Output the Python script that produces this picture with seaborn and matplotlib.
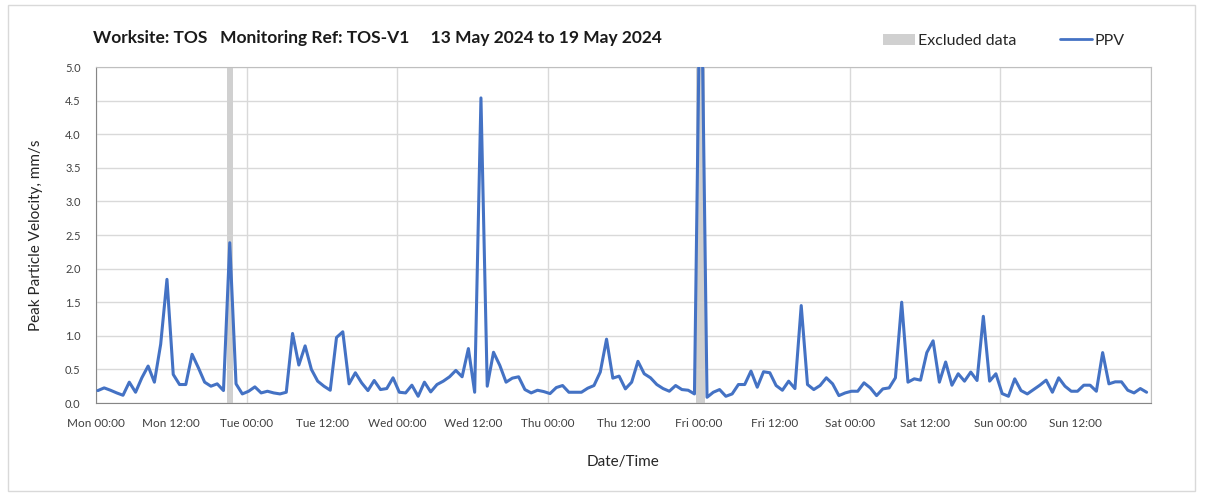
import numpy as np
import seaborn as sns
import matplotlib.pyplot as plt
from matplotlib.ticker import MultipleLocator
from matplotlib.patches import Patch, Rectangle
from matplotlib.lines import Line2D

# hourly readings, hours since Mon 13 May 2024 00:00 (first reading ~00:20)
hours = np.arange(168) + 0.3
ppv = [
    0.185, 0.225, 0.19, 0.15, 0.115, 0.31, 0.16, 0.375, 0.55, 0.31, 0.875, 1.84,
    0.425, 0.275, 0.275, 0.725, 0.525, 0.31, 0.25, 0.285, 0.185, 2.385, 0.285, 0.135,
    0.175, 0.24, 0.15, 0.175, 0.15, 0.135, 0.16, 1.035, 0.565, 0.85, 0.5, 0.325,
    0.25, 0.19, 0.975, 1.06, 0.285, 0.45, 0.3, 0.185, 0.335, 0.2, 0.215, 0.375,
    0.16, 0.15, 0.265, 0.1, 0.31, 0.165, 0.275, 0.325, 0.39, 0.485, 0.39, 0.81,
    0.16, 4.54, 0.25, 0.755, 0.56, 0.31, 0.37, 0.39, 0.2, 0.15, 0.19, 0.17,
    0.14, 0.23, 0.26, 0.16, 0.16, 0.16, 0.22, 0.26, 0.46, 0.95, 0.37, 0.40,
    0.21, 0.31, 0.62, 0.435, 0.375, 0.275, 0.215, 0.175, 0.26, 0.2, 0.19, 0.135,
    7.2, 0.085, 0.16, 0.2, 0.1, 0.135, 0.275, 0.275, 0.475, 0.235, 0.465, 0.45,
    0.26, 0.19, 0.325, 0.215, 1.45, 0.275, 0.2, 0.26, 0.375, 0.285, 0.11, 0.15,
    0.175, 0.175, 0.3, 0.225, 0.11, 0.21, 0.225, 0.375, 1.5, 0.31, 0.36, 0.34,
    0.75, 0.925, 0.31, 0.61, 0.265, 0.435, 0.325, 0.46, 0.335, 1.29, 0.325, 0.435,
    0.14, 0.1, 0.36, 0.185, 0.135, 0.2, 0.265, 0.34, 0.16, 0.375, 0.25, 0.175,
    0.175, 0.265, 0.265, 0.175, 0.75, 0.285, 0.315, 0.315, 0.19, 0.15, 0.215, 0.16,
]

tick_labels = ["Mon 00:00", "Mon 12:00", "Tue 00:00", "Tue 12:00", "Wed 00:00",
               "Wed 12:00", "Thu 00:00", "Thu 12:00", "Fri 00:00", "Fri 12:00",
               "Sat 00:00", "Sat 12:00", "Sun 00:00", "Sun 12:00"]

# excluded periods (hours since start)
excluded_from = [20.9, 95.6]
excluded_to = [21.8, 96.9]

title = "Worksite: TOS   Monitoring Ref: TOS-V1     13 May 2024 to 19 May 2024"

sns.set_style("white")
plt.rcParams['font.family'] = ['Lato', 'DejaVu Sans']

blue = '#4472c4'
grey = '#d0d0d0'

fig = plt.figure(figsize=(12.08, 4.97), dpi=100)
ax = fig.add_axes([96 / 1208, 1 - 403 / 497, 1055 / 1208, 336 / 497])

for a, b in zip(excluded_from, excluded_to):
    ax.axvspan(a, b, color=grey, lw=0, zorder=1)

sns.lineplot(x=hours, y=ppv, ax=ax, color=blue, lw=2.2, zorder=3)

ax.set_xlim(0, 168)
ax.set_ylim(0, 5)
ax.set_xticks(np.arange(0, 168, 12))
ax.set_xticklabels(tick_labels)
ax.xaxis.set_minor_locator(MultipleLocator(24))
ax.xaxis.remove_overlapping_locs = False
ax.yaxis.set_major_locator(MultipleLocator(0.5))
ax.yaxis.set_major_formatter('{x:.1f}')

ax.grid(which='minor', axis='x', color='#d9d9d9', lw=1, zorder=0)
ax.grid(which='major', axis='y', color='#d9d9d9', lw=1, zorder=0)
ax.set_axisbelow(True)
ax.tick_params(which='minor', length=0)
ax.tick_params(which='major', direction='out', length=5, width=1, color='#868686',
               labelcolor='#404040', pad=6)
ax.tick_params(axis='x', labelsize=8.5)
ax.tick_params(axis='y', labelsize=8)

for side in ['left', 'bottom']:
    ax.spines[side].set_color('#868686')
for side in ['top', 'right']:
    ax.spines[side].set_color('#bfbfbf')

ax.set_ylabel('Peak Particle Velocity, mm/s', fontsize=11, color='#262626')
ax.yaxis.set_label_coords(-53 / 1055, 0.5)
ax.set_xlabel('Date/Time', fontsize=11, color='#262626')
ax.xaxis.set_label_coords(0.5, -52 / 336)

fig.text(93 / 1208, 1 - 38 / 497, title, fontsize=12.5, fontweight='bold',
         ha='left', va='center', color='#1a1a1a')

handles = [Patch(facecolor=grey, edgecolor='none'), Line2D([], [], color=blue, lw=2)]
fig.legend(handles, ['Excluded data', 'PPV'], loc='center',
           bbox_to_anchor=(1004 / 1208, 1 - 41 / 497), ncol=2, frameon=False,
           fontsize=11.5, handlelength=2, handletextpad=0.2, columnspacing=2.7)

fig.add_artist(Rectangle((8 / 1208, 6 / 497), 1187 / 1208, 486 / 497,
                         transform=fig.transFigure, fill=False, ec='#d9d9d9', lw=1))

fig.savefig('out.png', dpi=100)
